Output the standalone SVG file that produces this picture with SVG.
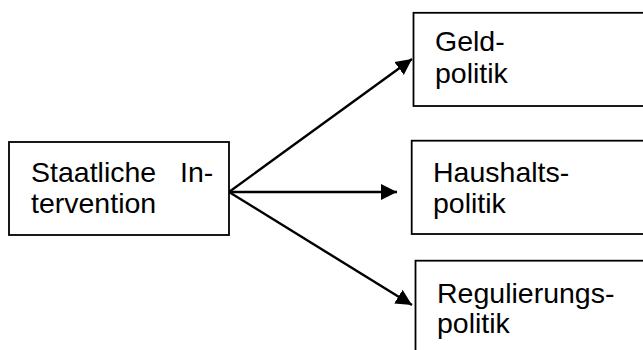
<svg xmlns="http://www.w3.org/2000/svg" width="643" height="350" viewBox="0 0 643 350">
<style>
.box{fill:#fff;stroke:#000;stroke-width:1.8}
.t{font-family:"Liberation Sans",Arial,sans-serif;font-size:28.5px;fill:#000}
.c{stroke:#000;stroke-width:2.4;fill:none}
</style>
<defs>
<marker id="ah" markerUnits="userSpaceOnUse" markerWidth="17" markerHeight="17" viewBox="0 0 17 17" refX="16" refY="8.5" orient="auto">
<path d="M0,0.5 L16,8.5 L0,16.5 Z" fill="#000"/>
</marker>
</defs>
<rect width="643" height="350" fill="#fff"/>
<g id="connectors">
<line class="c" x1="229" y1="192" x2="412" y2="59" marker-end="url(#ah)"/>
<line class="c" x1="229" y1="192" x2="397" y2="192" marker-end="url(#ah)"/>
<line class="c" x1="229" y1="192" x2="412" y2="305" marker-end="url(#ah)"/>
</g>
<g id="node-staatliche">
<rect class="box" x="9" y="142" width="220" height="93"/>
<text class="t" y="181.5"><tspan x="31">Staatliche</tspan><tspan x="180">In-</tspan></text>
<text class="t" x="31" y="213">tervention</text>
</g>
<g id="node-geld">
<rect class="box" x="413.5" y="12.8" width="240" height="93.2"/>
<text class="t" x="435" y="50.7">Geld-</text>
<text class="t" x="435" y="82.7">politik</text>
</g>
<g id="node-haushalt">
<rect class="box" x="411.7" y="140.7" width="240" height="93.3"/>
<text class="t" x="433" y="181.7">Haushalts-</text>
<text class="t" x="433" y="213.3">politik</text>
</g>
<g id="node-regulierung">
<rect class="box" x="415.5" y="260.7" width="240" height="100"/>
<text class="t" x="437" y="303.3">Regulierungs-</text>
<text class="t" x="437" y="333.3">politik</text>
</g>
</svg>
